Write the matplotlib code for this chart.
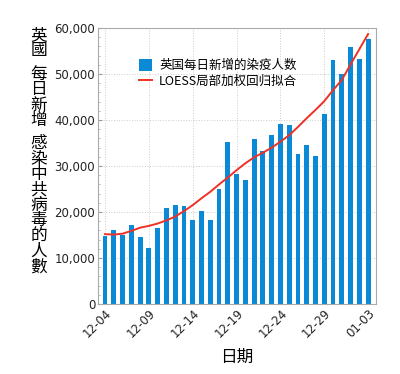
import matplotlib
matplotlib.use("Agg")
import matplotlib.pyplot as plt
from matplotlib.ticker import FuncFormatter, MultipleLocator
from matplotlib.lines import Line2D
from matplotlib.patches import Patch

plt.rcParams['font.family'] = ['Noto Sans CJK SC', 'DejaVu Sans']

# 日期 12-04 ~ 01-03
riqi = ['12-04', '12-05', '12-06', '12-07', '12-08', '12-09', '12-10', '12-11',
        '12-12', '12-13', '12-14', '12-15', '12-16', '12-17', '12-18', '12-19',
        '12-20', '12-21', '12-22', '12-23', '12-24', '12-25', '12-26', '12-27',
        '12-28', '12-29', '12-30', '12-31', '01-01', '01-02', '01-03']

xinzeng = [14800, 16200, 15100, 17100, 14600, 12200, 16500, 20800,
           21500, 21300, 18300, 20200, 18300, 25000, 35300, 28300,
           27000, 35900, 33300, 36700, 39100, 38900, 32700, 34600,
           32200, 41300, 53000, 50000, 55800, 53200, 57600]

loess = [15200, 15100, 15300, 15900, 16600, 17000, 17500, 18200,
         19000, 20200, 21500, 23000, 24400, 26000, 27500, 29100,
         30600, 31900, 32900, 34000, 35300, 36700, 38500, 40400,
         42200, 44100, 46500, 48700, 52100, 55400, 58700]

marcas = ['12-04', '12-09', '12-14', '12-19', '12-24', '12-29', '01-03']

cor_barra = '#0a8ad6'
cor_linha = '#ee3124'

fig = plt.figure(figsize=(4.0, 3.74), dpi=100)
ax = fig.add_axes([0.245, 0.187, 0.695, 0.738])

pos = list(range(len(riqi)))
ax.bar(pos, xinzeng, width=0.55, color=cor_barra, zorder=2)
ax.plot(pos, loess, color=cor_linha, linewidth=1.4, zorder=3)

ax.set_xlim(-0.8, len(riqi) - 0.1)
ax.set_ylim(0, 60000)

ax.set_xticks([riqi.index(m) for m in marcas])
ax.set_xticklabels(marcas, rotation=45, ha='right', rotation_mode='anchor',
                   fontsize=8.5, family=['DejaVu Sans'])
ax.yaxis.set_major_locator(MultipleLocator(10000))
ax.yaxis.set_minor_locator(MultipleLocator(2000))
ax.yaxis.set_major_formatter(FuncFormatter(lambda v, p: f'{int(v):,}'))
for lab in ax.get_yticklabels():
    lab.set_fontsize(8.5)
    lab.set_family(['DejaVu Sans'])

ax.tick_params(axis='both', direction='in', length=3, color='#999999',
               labelcolor='#222222', pad=2)
ax.tick_params(axis='y', which='minor', direction='in', length=1.5, color='#aaaaaa')
ax.grid(True, linestyle=':', color='#cccccc', linewidth=0.7, zorder=0)
for s in ax.spines.values():
    s.set_color('#aaaaaa')
    s.set_linewidth(0.8)

handles = [Patch(facecolor=cor_barra, edgecolor='none'),
           Line2D([0], [0], color=cor_linha, linewidth=1.4)]
ax.legend(handles, ['英国每日新增的染疫人数', 'LOESS局部加权回归拟合'],
          loc='upper left', bbox_to_anchor=(0.13, 0.905), frameon=False,
          fontsize=9, handlelength=1.0, handleheight=1.0, handletextpad=0.6,
          labelspacing=0.2, borderaxespad=0)

ax.set_xlabel('日期', fontsize=12, fontweight='medium', labelpad=6)

# 纵向标题, 每个字单独放
grupos = ['英國', '每日新增', '感染中共病毒的人數']
y = 0.905
passo = 15.4 / 374
for g in grupos:
    for ch in g:
        fig.text(0.097, y, ch, fontsize=12, fontweight='medium',
                 ha='center', va='center')
        y -= passo
    y -= 8 / 374

fig.savefig('out.png', dpi=100)
